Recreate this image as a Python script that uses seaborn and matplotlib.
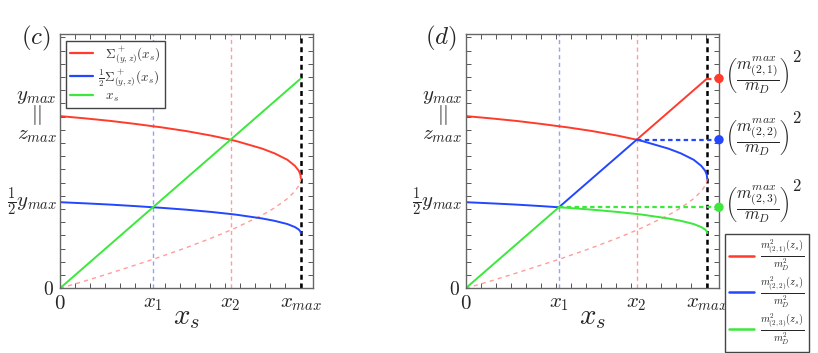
import matplotlib
matplotlib.use("Agg")
import matplotlib.pyplot as plt
import seaborn as sns
import pandas as pd
from matplotlib.lines import Line2D

# ---- data (in axis-fraction units) ----
xs = [0.0, 0.1, 0.2, 0.3, 0.368, 0.4, 0.5, 0.6, 0.675, 0.7, 0.8, 0.85, 0.9,
      0.93, 0.945, 0.951, 0.9525, 0.953]
sigma_upper = [0.678, 0.669, 0.659, 0.647, 0.638, 0.634, 0.619, 0.601, 0.585,
               0.579, 0.550, 0.531, 0.506, 0.482, 0.463, 0.449, 0.441, 0.434]
sigma_lower = [0.0, 0.029, 0.060, 0.092, 0.114, 0.125, 0.160, 0.198, 0.229,
               0.240, 0.288, 0.317, 0.353, 0.382, 0.404, 0.420, 0.427, 0.434]
half_sigma = [0.339, 0.3345, 0.3295, 0.3235, 0.319, 0.317, 0.3095, 0.3005,
              0.2925, 0.2895, 0.275, 0.2655, 0.253, 0.241, 0.2315, 0.2245,
              0.2205, 0.217]
line_x = [0.0, 0.368, 0.675, 0.953]
line_y = [0.0, 0.319, 0.585, 0.826]
x1, x2, xmax = 0.368, 0.675, 0.953
ymax_level, half_level = 0.678, 0.339

xtick_pos = [0.0, x1, x2, xmax]
xtick_lab = [r"$0$", r"$x_1$", r"$x_2$", r"$x_{max}$"]

RED = "#ff3b2b"
BLUE = "#2346ff"
GREEN = "#3be83b"
LRED = "#ff9c9c"
LBLUE = "#92a2ff"

sns.set_theme(style="ticks")
plt.rcParams["mathtext.fontset"] = "cm"
plt.rcParams["font.family"] = ["DejaVu Serif"]

fig = plt.figure(figsize=(8.18, 3.53), dpi=100)
axL = fig.add_axes([0.0733, 0.1833, 0.3089, 0.7195])
axR = fig.add_axes([0.5693, 0.1833, 0.3097, 0.7195])

df = pd.DataFrame({"x": xs, "up": sigma_upper, "lo": sigma_lower,
                   "half": half_sigma})
dl = pd.DataFrame({"x": line_x, "y": line_y})


def frame(ax, panel):
    ax.set_xlim(0, 1)
    ax.set_ylim(0, 1)
    for s in ax.spines.values():
        s.set_color("#666666")
        s.set_linewidth(1.0)
    ax.set_xticks(xtick_pos)
    ax.set_xticklabels(xtick_lab, fontsize=15)
    ax.set_yticks([0.0])
    ax.set_yticklabels([r"$0$"], fontsize=14)
    ax.set_xticks([0.0594 * k for k in range(1, 17)], minor=True)
    ax.set_yticks([0.052 * k for k in range(1, 20)], minor=True)
    ax.tick_params(which="major", length=0, pad=4)
    ax.tick_params(which="minor", direction="in", length=3.5, width=0.7,
                   color="#555555", top=True, right=True, bottom=True,
                   left=True)
    ax.text(-0.012, ymax_level, "$y_{max}$\n$||$\n$z_{max}$",
            transform=ax.get_yaxis_transform(), ha="right", va="center",
            multialignment="center", fontsize=15, linespacing=0.85)
    ax.text(-0.012, half_level, r"$\frac{1}{2}y_{max}$",
            transform=ax.get_yaxis_transform(), ha="right", va="center",
            fontsize=15)
    ax.text(-0.035, 0.985, panel, transform=ax.transAxes, ha="right",
            va="center", fontsize=18)
    ax.axvline(x1, color=LBLUE, lw=1.0, ls=(0, (3, 2.5)))
    ax.axvline(x2, color=LRED, lw=1.0, ls=(0, (3, 2.5)))
    ax.axvline(xmax, color="black", lw=1.8, ls=(0, (2, 1.5)))
    sns.lineplot(data=df, x="x", y="lo", ax=ax, color=LRED, lw=1.0,
                 ls=(0, (3, 3)), sort=False, estimator=None)


def labels(ax):
    ax.set_xlabel(r"$x_s$", fontsize=21, labelpad=-7)
    ax.set_ylabel("")


# ---------------- panel (c) ----------------
frame(axL, r"$(c)$")
sns.lineplot(data=df, x="x", y="up", ax=axL, color=RED, lw=1.4,
             sort=False, estimator=None)
sns.lineplot(data=df, x="x", y="half", ax=axL, color=BLUE, lw=1.4,
             sort=False, estimator=None)
sns.lineplot(data=dl, x="x", y="y", ax=axL, color=GREEN, lw=1.4,
             sort=False, estimator=None)
labels(axL)
hL = [Line2D([], [], color=RED, lw=1.6), Line2D([], [], color=BLUE, lw=1.6),
      Line2D([], [], color=GREEN, lw=1.6)]
labL = [r"$\ \ \Sigma^+_{(y,z)}(x_s)$", r"$\frac{1}{2}\Sigma^+_{(y,z)}(x_s)$",
        r"$\ \ x_s$"]
legL = axL.legend(hL, labL, loc="upper left", bbox_to_anchor=(0.024, 0.975),
                  borderaxespad=0, fontsize=9.5, handlelength=1.75,
                  handletextpad=0.4, labelspacing=0.12, fancybox=False,
                  framealpha=1, borderpad=0.3)
legL.get_frame().set_edgecolor("#444444")
legL.get_frame().set_linewidth(1.0)
for t in legL.get_texts():
    t.set_color("#333333")

# ---------------- panel (d) ----------------
frame(axR, r"$(d)$")
up = df[df.x <= x1]
hi = df[df.x >= x2]
ln_lo = dl[dl.x <= x1]
ln_mid = dl[(dl.x >= x1) & (dl.x <= x2)]
ln_hi = dl[dl.x >= x2]

# m(2,1): upper Sigma up to x2, then straight line
sns.lineplot(data=df[df.x <= x2], x="x", y="up", ax=axR, color=RED, lw=1.4,
             sort=False, estimator=None)
sns.lineplot(data=ln_hi, x="x", y="y", ax=axR, color=RED, lw=1.4,
             sort=False, estimator=None)
# m(2,2): half Sigma up to x1, line x1..x2, upper Sigma beyond x2
sns.lineplot(data=up, x="x", y="half", ax=axR, color=BLUE, lw=1.4,
             sort=False, estimator=None)
sns.lineplot(data=ln_mid, x="x", y="y", ax=axR, color=BLUE, lw=1.4,
             sort=False, estimator=None)
sns.lineplot(data=hi, x="x", y="up", ax=axR, color=BLUE, lw=1.4,
             sort=False, estimator=None)
# m(2,3): line up to x1, half Sigma beyond
sns.lineplot(data=ln_lo, x="x", y="y", ax=axR, color=GREEN, lw=1.4,
             sort=False, estimator=None)
sns.lineplot(data=df[df.x >= x1], x="x", y="half", ax=axR, color=GREEN,
             lw=1.4, sort=False, estimator=None)

# horizontal dotted guides to the right edge
end_y = [line_y[3], line_y[2], line_y[1]]
start_x = [xmax, x2, x1]
cols = [RED, BLUE, GREEN]
for sx, ey, c in zip(start_x, end_y, cols):
    axR.hlines(ey, sx, 1.0, colors=c, lw=1.6, linestyles=(0, (2, 1.5)))
sns.scatterplot(x=[1.0, 1.0, 1.0], y=end_y, ax=axR, s=45,
                edgecolor="none", clip_on=False, zorder=5, legend=False,
                hue=[0, 1, 2], palette=cols)
labels(axR)

names = ["(2,1)", "(2,2)", "(2,3)"]
for nm, ey in zip(names, end_y):
    axR.text(1.022, ey + 0.01,
             r"$\left(\dfrac{m^{max}_{%s}}{m_D}\right)$" % nm,
             transform=axR.transAxes, ha="left", va="center", fontsize=12)
    axR.text(1.305, ey + 0.082, r"$2$", transform=axR.transAxes,
             ha="center", va="center", fontsize=12)

hR = [Line2D([], [], color=RED, lw=1.8), Line2D([], [], color=BLUE, lw=1.8),
      Line2D([], [], color=GREEN, lw=1.8)]
labR = [r"$\frac{m^2_{%s}(z_s)}{m^2_D}$" % n for n in names]
legR = axR.legend(hR, labR, loc="upper left", bbox_to_anchor=(1.024, 0.214),
                  borderaxespad=0, fontsize=10.5, handlelength=1.7,
                  handletextpad=0.4, labelspacing=0.12, fancybox=False,
                  framealpha=1, borderpad=0.3)
legR.get_frame().set_edgecolor("#444444")
legR.get_frame().set_linewidth(1.0)

fig.savefig("out.png", dpi=100)
